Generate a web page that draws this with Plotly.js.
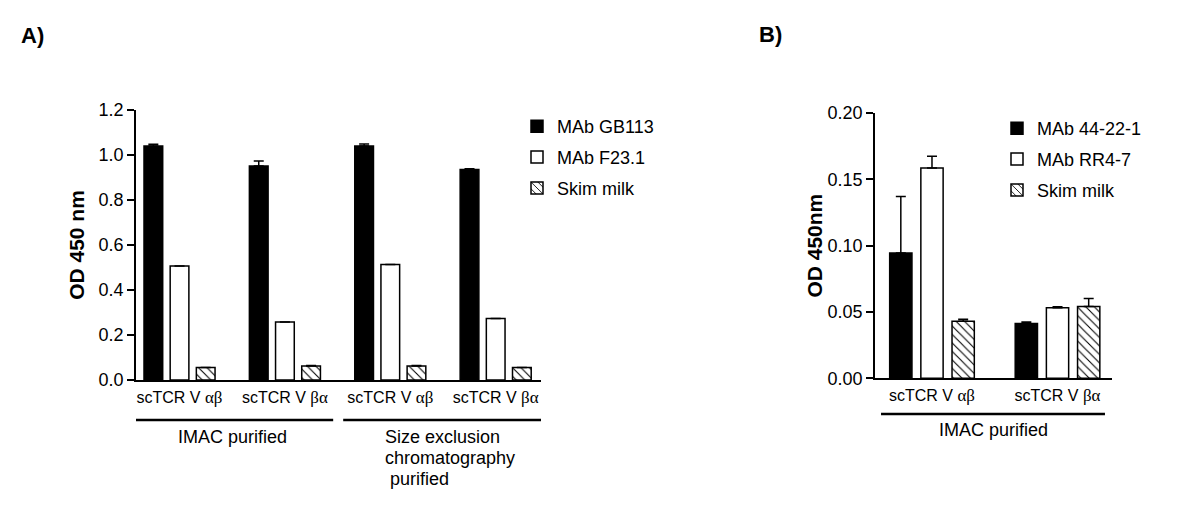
<!DOCTYPE html>
<html>
<head>
<meta charset="utf-8">
<script src="https://cdn.plot.ly/plotly-3.0.1.min.js"></script>
<style>html,body{margin:0;padding:0;background:#fff;}#chart{width:1200px;height:528px;}</style>
</head>
<body>
<div id="chart"></div>
<script>
// ---------- Data: panel A ----------
const groupsA = ['IMAC αβ', 'IMAC βα', 'SEC αβ', 'SEC βα'];
const chainsA = ['αβ', 'βα', 'αβ', 'βα'];
const gb113 = [1.040, 0.951, 1.040, 0.936];
const gb113Err = [0.008, 0.022, 0.009, 0.003];
const f231 = [0.507, 0.258, 0.513, 0.273];
const f231Err = [0, 0, 0, 0];
const skimA = [0.056, 0.062, 0.062, 0.056];
const skimAErr = [0, 0.003, 0.003, 0];

// ---------- Data: panel B ----------
const groupsB = ['IMAC αβ', 'IMAC βα'];
const chainsB = ['αβ', 'βα'];
const mab44 = [0.0944, 0.0414];
const mab44Err = [0.0426, 0.0010];
const rr47 = [0.1586, 0.0531];
const rr47Err = [0.0088, 0.0008];
const skimB = [0.0431, 0.0541];
const skimBErr = [0.0015, 0.0060];

const seriesNamesA = ['MAb GB113', 'MAb F23.1', 'Skim milk'];
const seriesNamesB = ['MAb 44-22-1', 'MAb RR4-7', 'Skim milk'];
const secLabelLines = ['Size exclusion', 'chromatography', '\u00a0purified'];

const FONT = 'Liberation Sans, Arial, Helvetica, sans-serif';
const tickLabel = c => 'scTCR V <span style="font-family:\'Liberation Serif\',\'Times New Roman\',serif;font-size:17px">' + c + '</span>';

const styles = [
  {color: '#000000', line: {color: '#000000', width: 1.5}},
  {color: '#ffffff', line: {color: '#000000', width: 1.5}},
  {color: '#ffffff', line: {color: '#000000', width: 1.5},
   pattern: {shape: '\\', fgcolor: '#000000', bgcolor: '#ffffff', size: 6, solidity: 0.18}}
];

function mk(x, y, err, name, idx, xa, ya, leg) {
  return {
    type: 'bar', x: x, y: y, name: name, xaxis: xa, yaxis: ya,
    legend: leg, legendgroup: leg + idx,
    marker: styles[idx],
    error_y: {type: 'data', symmetric: false, array: err, arrayminus: err.map(() => 0),
              color: '#000000', thickness: 1.5, width: 5},
    hoverinfo: 'x+y'
  };
}

const data = [
  mk(groupsA, gb113, gb113Err, seriesNamesA[0], 0, 'x', 'y', 'legend'),
  mk(groupsA, f231, f231Err, seriesNamesA[1], 1, 'x', 'y', 'legend'),
  mk(groupsA, skimA, skimAErr, seriesNamesA[2], 2, 'x', 'y', 'legend'),
  mk(groupsB, mab44, mab44Err, seriesNamesB[0], 0, 'x2', 'y2', 'legend2'),
  mk(groupsB, rr47, rr47Err, seriesNamesB[1], 1, 'x2', 'y2', 'legend2'),
  mk(groupsB, skimB, skimBErr, seriesNamesB[2], 2, 'x2', 'y2', 'legend2')
];

const W = 1200, H = 528;
const px = v => v / W;
const py = v => 1 - v / H;

const axisCommon = {
  showline: true, linecolor: '#000000', linewidth: 1.5, showgrid: false, zeroline: false,
  tickfont: {family: FONT, size: 18, color: '#000000'}, fixedrange: true
};

const txt = (text, xref, x, yPix, xanchor, size, extra) => Object.assign({
  text: text, xref: xref, yref: 'paper', x: x, y: py(yPix), xanchor: xanchor, yanchor: 'middle',
  showarrow: false, font: {family: FONT, size: size, color: '#000000'}
}, extra || {});

const annotations = [
  txt('<b>A)</b>', 'paper', px(19), 35, 'left', 22),
  txt('<b>B)</b>', 'paper', px(757), 34, 'left', 22),
  txt('IMAC purified', 'x', 0.5, 437, 'center', 18),
  txt('IMAC purified', 'x2', 0.486, 430, 'center', 18)
];
secLabelLines.forEach((line, i) => {
  annotations.push(txt(line, 'x', 1.933, 437 + 21 * i, 'left', 18));
});

const layout = {
  width: W, height: H,
  margin: {l: 0, r: 0, t: 0, b: 0},
  paper_bgcolor: '#ffffff', plot_bgcolor: '#ffffff',
  font: {family: FONT, color: '#000000'},
  barmode: 'group', bargap: 0.255, bargroupgap: 0.285,
  xaxis: Object.assign({}, axisCommon, {
    domain: [px(136), px(541)], anchor: 'y', type: 'category',
    range: [-0.413, 3.43], ticks: '',
    tickvals: groupsA, ticktext: chainsA.map(tickLabel),
    tickfont: {family: FONT, size: 16, color: '#000000'}, ticklabelstandoff: 2
  }),
  yaxis: Object.assign({}, axisCommon, {
    domain: [py(380), py(110)], anchor: 'x', range: [0, 1.2], dtick: 0.2,
    tickformat: '.1f', ticks: 'outside', ticklen: 7, tickwidth: 1.5, tickcolor: '#000000',
    title: {text: '<b>OD 450 nm</b>', font: {family: FONT, size: 21, color: '#000000'}}
  }),
  xaxis2: Object.assign({}, axisCommon, {
    domain: [px(875), px(1112)], anchor: 'y2', type: 'category',
    range: [-0.454, 1.434], ticks: '',
    tickvals: groupsB, ticktext: chainsB.map(tickLabel),
    tickfont: {family: FONT, size: 16, color: '#000000'}, ticklabelstandoff: 2
  }),
  yaxis2: Object.assign({}, axisCommon, {
    domain: [py(378.3), py(113)], anchor: 'x2', range: [0, 0.2], dtick: 0.05,
    tickformat: '.2f', ticks: 'outside', ticklen: 7, tickwidth: 1.5, tickcolor: '#000000',
    title: {text: '<b>OD 450nm</b>', font: {family: FONT, size: 21, color: '#000000'}}
  }),
  legend: {
    x: px(517), y: py(108), xanchor: 'left', yanchor: 'top',
    font: {family: FONT, size: 18, color: '#000000'}, bgcolor: 'rgba(0,0,0,0)',
    tracegroupgap: 4.5, traceorder: 'grouped'
  },
  legend2: {
    x: px(997), y: py(110), xanchor: 'left', yanchor: 'top',
    font: {family: FONT, size: 18, color: '#000000'}, bgcolor: 'rgba(0,0,0,0)',
    tracegroupgap: 4.5, traceorder: 'grouped'
  },
  shapes: [
    {type: 'line', xref: 'x', yref: 'paper', x0: -0.451, x1: 1.458, y0: py(420), y1: py(420),
     line: {color: '#000000', width: 2.5}},
    {type: 'line', xref: 'x', yref: 'paper', x0: 1.553, x1: 3.510, y0: py(420), y1: py(420),
     line: {color: '#000000', width: 2.5}},
    {type: 'line', xref: 'x2', yref: 'paper', x0: -0.406, x1: 1.378, y0: py(414), y1: py(414),
     line: {color: '#000000', width: 2.5}}
  ],
  annotations: annotations
};

Plotly.newPlot('chart', data, layout, {displayModeBar: false});
</script>
</body>
</html>
